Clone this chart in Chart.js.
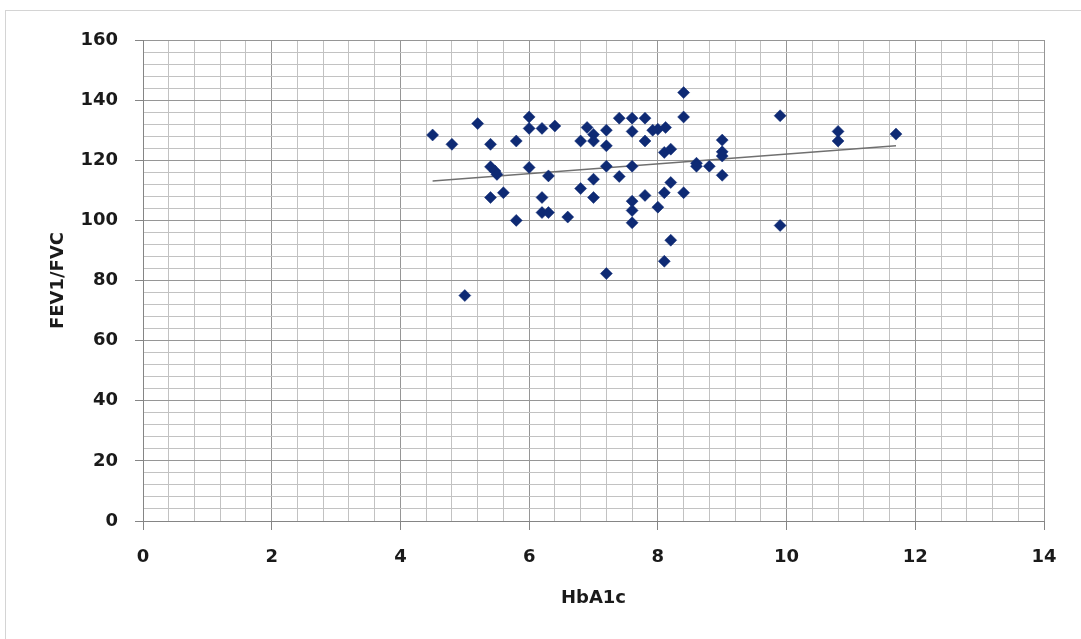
<!DOCTYPE html>
<html lang="en">
<head>
    <meta charset="UTF-8">
    <title>FEV1/FVC vs HbA1c</title>
    <script src="https://cdn.jsdelivr.net/npm/chart.js"></script>
    <style>
        body {
            margin: 0;
            background-color: #ffffff;
        }
        .wrap {
            position: relative;
            width: 1081px;
            height: 639px;
            overflow: hidden;
        }
        .frame {
            position: absolute;
            left: 5px;
            top: 10px;
            width: 1200px;
            height: 800px;
            border: 1px solid #d4d4d4;
        }
        canvas {
            position: absolute;
            left: 0;
            top: 0;
        }
    </style>
</head>
<body>
    <div class="wrap">
        <div class="frame"></div>
        <canvas id="scatterChart" width="1081" height="639"></canvas>
    </div>

    <script>
        // HbA1c (x) and FEV1/FVC (y)
        const hba1c = [
            4.5, 4.8, 5.0, 5.2, 5.4, 5.4, 5.47, 5.5, 5.4, 5.6,
            5.8, 5.8, 6.0, 6.0, 6.0, 6.2, 6.2, 6.2, 6.3, 6.3,
            6.4, 6.6, 6.8, 6.8, 6.9, 7.0, 7.0, 7.0, 7.0, 7.2,
            7.2, 7.2, 7.2, 7.4, 7.4, 7.6, 7.6, 7.6, 7.6, 7.6,
            7.6, 7.8, 7.8, 7.8, 7.92, 8.0, 8.0, 8.12, 8.1, 8.2,
            8.2, 8.1, 8.1, 8.2, 8.4, 8.4, 8.4, 8.6, 8.6, 8.8,
            9.0, 9.0, 9.0, 9.0, 9.9, 9.9, 10.8, 10.8, 11.7
        ];
        const fev1Fvc = [
            128.4, 125.3, 75, 132.2, 125.3, 117.8, 116.4, 115.3, 107.6, 109.2,
            126.4, 100, 134.4, 130.6, 117.6, 130.6, 107.6, 102.6, 102.6, 114.8,
            131.4, 101.1, 126.4, 110.6, 130.9, 128.6, 126.4, 113.7, 107.6, 130,
            124.8, 118, 82.3, 134, 114.6, 134, 129.6, 118, 106.4, 103.3,
            99.2, 134, 126.4, 108.3, 130, 130.3, 104.4, 130.9, 122.6, 123.7,
            112.6, 109.2, 86.4, 93.4, 142.5, 134.4, 109.2, 119, 118, 118,
            126.7, 122.8, 121.4, 115, 134.8, 98.3, 129.6, 126.4, 128.7
        ];

        // linear trend line end points
        const trendX = [4.5, 11.7];
        const trendY = [113.1, 124.8];

        const points = hba1c.map((x, i) => ({ x: x, y: fev1Fvc[i] }));
        const trend = trendX.map((x, i) => ({ x: x, y: trendY[i] }));

        const isMultiple = (v, step) => Math.abs(v / step - Math.round(v / step)) < 1e-6;

        const tickFont = { family: 'DejaVu Sans', size: 18, weight: 'bold' };

        const ctx = document.getElementById('scatterChart').getContext('2d');
        new Chart(ctx, {
            type: 'scatter',
            data: {
                datasets: [
                    {
                        label: 'FEV1/FVC',
                        data: points,
                        pointStyle: 'rectRot',
                        pointRadius: 6,
                        pointBackgroundColor: '#0e2a74',
                        pointBorderColor: '#0e2a74',
                        pointBorderWidth: 0.5,
                        order: 1
                    },
                    {
                        label: 'Trend',
                        type: 'line',
                        data: trend,
                        borderColor: '#707070',
                        borderWidth: 1.5,
                        pointRadius: 0,
                        fill: false,
                        order: 2
                    }
                ]
            },
            options: {
                responsive: false,
                animation: false,
                layout: {
                    padding: { left: 0, right: 37, top: 40, bottom: 0 }
                },
                plugins: {
                    legend: { display: false },
                    tooltip: { enabled: false }
                },
                scales: {
                    x: {
                        type: 'linear',
                        min: 0,
                        max: 14,
                        afterFit: (scale) => { scale.height = 118; },
                        border: { color: '#858585', width: 1 },
                        grid: {
                            color: (c) => isMultiple(c.tick.value, 2) ? '#969696' : '#c2c2c2',
                            tickColor: (c) => isMultiple(c.tick.value, 2) ? '#858585' : 'rgba(0,0,0,0)',
                            tickLength: 9
                        },
                        ticks: {
                            stepSize: 0.4,
                            autoSkip: false,
                            maxRotation: 0,
                            padding: 17,
                            color: '#1a1a1a',
                            font: tickFont,
                            callback: (v) => isMultiple(v, 2) ? Math.round(v) : ''
                        },
                        title: {
                            display: true,
                            text: 'HbA1c',
                            color: '#1a1a1a',
                            font: tickFont,
                            padding: { top: 0, bottom: 30 }
                        }
                    },
                    y: {
                        type: 'linear',
                        min: 0,
                        max: 160,
                        afterFit: (scale) => { scale.width = 143; },
                        border: { color: '#858585', width: 1 },
                        grid: {
                            color: (c) => isMultiple(c.tick.value, 20) ? '#969696' : '#c2c2c2',
                            tickColor: (c) => isMultiple(c.tick.value, 20) ? '#858585' : 'rgba(0,0,0,0)',
                            tickLength: 8
                        },
                        ticks: {
                            stepSize: 4,
                            autoSkip: false,
                            padding: 17,
                            color: '#1a1a1a',
                            font: tickFont,
                            callback: (v) => isMultiple(v, 20) ? v : ''
                        },
                        title: {
                            display: true,
                            text: 'FEV1/FVC',
                            color: '#1a1a1a',
                            font: tickFont,
                            padding: { top: 48, bottom: 0 }
                        }
                    }
                }
            }
        });
    </script>
</body>
</html>
